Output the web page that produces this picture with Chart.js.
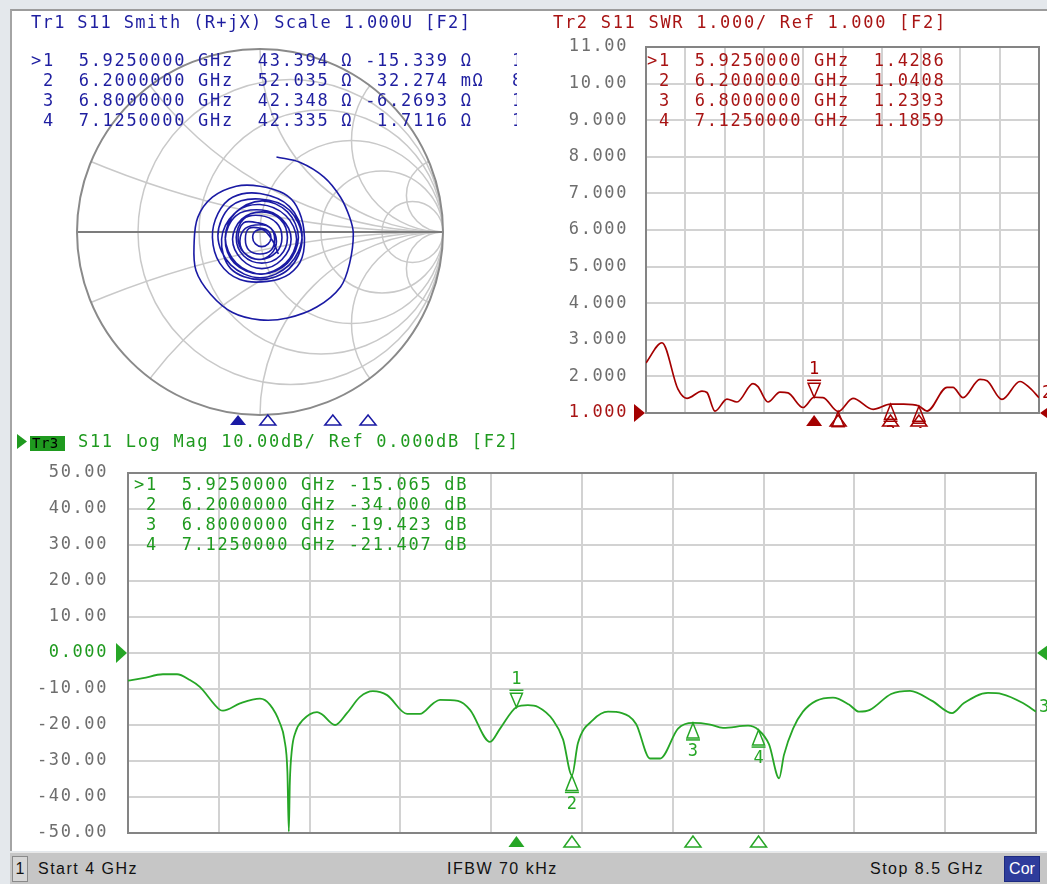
<!DOCTYPE html>
<html><head><meta charset="utf-8">
<script src="https://cdn.jsdelivr.net/npm/chart.js@4.4.1/dist/chart.umd.min.js"></script>
<style>
html,body{margin:0;padding:0;}
body{width:1047px;height:884px;background:#e4e8ec;position:relative;overflow:hidden;}
#panel{position:absolute;left:10px;top:9px;width:1037px;height:842px;background:#fff;border-top:2px solid #9c9c9c;border-left:2px solid #a4a4a4;box-sizing:border-box;}
canvas{position:absolute;}
.t{position:absolute;font-family:"DejaVu Sans Mono",monospace;font-size:17px;letter-spacing:1.7px;white-space:pre;line-height:20px;z-index:5;}
#status{position:absolute;left:10px;top:852px;width:1037px;height:32px;background:#c6c6c6;border-top:1px solid #e8e8e8;box-sizing:border-box;font-family:"Liberation Sans",Arial,sans-serif;font-size:16px;letter-spacing:1.5px;color:#111;}
#status div{position:absolute;line-height:24px;top:4px;white-space:pre;}
</style>
</head><body>
<div id="panel"></div>
<canvas id="smith" width="528" height="416" style="left:12px;top:12px"></canvas>
<canvas id="swr" width="507" height="416" style="left:540px;top:12px"></canvas>
<canvas id="logmag" width="1035" height="420" style="left:12px;top:428px"></canvas>
<div id="texts"></div>
<div id="status"></div>
<script>
// ---------------- data ----------------
const startGHz = 4.0, stopGHz = 8.5;
const freqGridGHz = [4.0, 4.45, 4.9, 5.35, 5.8, 6.25, 6.7, 7.15, 7.6, 8.05, 8.5];

const markerFreqGHz = [5.925, 6.2, 6.8, 7.125];
const markerFreqText = ['5.9250000', '6.2000000', '6.8000000', '7.1250000'];
const markerLogMag = [-15.065, -34.0, -19.423, -21.407];
const markerLogMagText = ['-15.065', '-34.000', '-19.423', '-21.407'];
const markerSWR = [1.4286, 1.0408, 1.2393, 1.1859];
const markerSWRText = ['1.4286', '1.0408', '1.2393', '1.1859'];
const markerSmithR = ['43.394 Ω', '52.035 Ω', '42.348 Ω', '42.335 Ω'];
const markerSmithX = ['-15.339 Ω', ' 32.274 mΩ', '-6.2693 Ω', ' 1.7116 Ω'];
const markerSmithClipped = ['1', '8', '1', '1'];

const logFreqGHz = [4.000,4.074,4.173,4.243,4.307,4.356,4.456,4.471,4.555,4.654,4.704,4.753,4.775,4.790,4.797,4.802,4.812,4.830,4.867,4.937,4.961,5.026,5.085,5.150,5.214,5.284,5.383,5.447,5.512,5.546,5.635,5.695,5.794,5.844,5.925,5.982,6.032,6.106,6.156,6.200,6.230,6.305,6.379,6.448,6.518,6.587,6.637,6.726,6.800,6.879,6.949,7.073,7.125,7.177,7.227,7.251,7.296,7.345,7.410,7.494,7.573,7.623,7.677,7.782,7.876,7.985,8.084,8.143,8.262,8.331,8.435,8.500];
const logMagDb = [-7.7,-7.0,-5.9,-5.9,-7.5,-9.4,-15.8,-16.0,-14.0,-12.7,-14.4,-19.5,-24.0,-33.0,-49.6,-36.0,-27.0,-22.0,-18.6,-16.4,-17.0,-20.0,-16.7,-12.2,-10.6,-11.7,-16.9,-16.9,-14.0,-13.0,-13.3,-15.8,-24.7,-21.0,-15.065,-14.5,-15.0,-18.6,-24.0,-34.0,-25.0,-18.6,-16.3,-16.7,-19.7,-29.3,-29.3,-21.0,-19.423,-19.8,-20.8,-20.2,-21.407,-25.4,-34.8,-28.3,-21.0,-16.3,-13.3,-12.4,-14.3,-16.3,-15.8,-11.4,-10.5,-13.3,-16.7,-13.9,-11.1,-11.4,-13.9,-16.3];
const logMagTicks = [-50,-40,-30,-20,-10,0,10,20,30,40,50];
const logMagTickLabels = ['-50.00','-40.00','-30.00','-20.00','-10.00','0.000','10.00','20.00','30.00','40.00','50.00'];

const swrFreqGHz = [4.000,4.183,4.366,4.469,4.641,4.698,4.790,4.927,5.042,5.225,5.282,5.397,5.534,5.626,5.798,5.925,6.027,6.200,6.370,6.600,6.800,6.950,7.125,7.218,7.447,7.515,7.630,7.824,7.905,8.076,8.282,8.397,8.500];
const swrValues = [2.37,2.92,1.65,1.40,1.60,1.56,1.05,1.38,1.30,1.80,1.72,1.30,1.57,1.55,1.15,1.43,1.42,1.04,1.40,1.10,1.24,1.24,1.19,1.05,1.70,1.70,1.42,1.92,1.88,1.37,1.86,1.68,1.42];
const swrTicks = [1,2,3,4,5,6,7,8,9,10,11];
const swrTickLabels = ['1.000','2.000','3.000','4.000','5.000','6.000','7.000','8.000','9.000','10.00','11.00'];

const smithRe = [0.09,0.22,0.35,0.44,0.49,0.51,0.49,0.44,0.31,0.15,0.00,-0.15,-0.27,-0.35,-0.36,-0.34,-0.26,-0.13,0.00,0.13,0.20,0.24,0.23,0.16,0.04,-0.11,-0.22,-0.26,-0.23,-0.15,
 0.00,0.16,0.23,0.16,0.00,-0.16,-0.23,-0.16,
 0.00,0.16,0.23,0.16,0.00,-0.16,-0.21,-0.14,
 0.01,0.15,0.21,0.15,0.01,-0.13,-0.19,-0.13,
 0.00,0.14,0.20,0.14,0.00,-0.14,-0.19,-0.13,
 0.01,0.12,0.17,0.12,0.01,-0.10,-0.15,-0.10,
 0.01,0.11,0.15,0.11,0.01,-0.09,-0.13,-0.09,
 0.00,0.09,0.12,0.09,0.00,-0.09,-0.12,-0.09,
 -0.01,0.06,0.09,0.06,-0.01,-0.08,-0.11,-0.08,
 0.00,0.06,0.08,0.06,0.00,-0.06,-0.08,-0.06,
 0.01,0.045,0.06,0.045,0.01,-0.025,-0.04,-0.025,
 0.02,0.07,0.10];
const smithIm = [0.41,0.38,0.30,0.19,0.08,-0.01,-0.17,-0.30,-0.41,-0.47,-0.48,-0.44,-0.34,-0.21,-0.06,0.08,0.19,0.25,0.25,0.21,0.14,0.01,-0.14,-0.23,-0.27,-0.26,-0.17,-0.03,0.10,0.19,
 0.21,0.14,-0.02,-0.18,-0.25,-0.18,-0.02,0.14,
 0.18,0.12,-0.04,-0.20,-0.26,-0.20,-0.04,0.10,
 0.17,0.11,-0.03,-0.17,-0.23,-0.17,-0.03,0.11,
 0.15,0.09,-0.04,-0.17,-0.23,-0.17,-0.04,0.09,
 0.12,0.07,-0.04,-0.15,-0.20,-0.15,-0.04,0.07,
 0.11,0.07,-0.03,-0.13,-0.17,-0.13,-0.03,0.07,
 0.09,0.05,-0.03,-0.11,-0.15,-0.11,-0.03,0.05,
 0.05,0.02,-0.05,-0.12,-0.15,-0.12,-0.05,0.02,
 0.04,0.02,-0.04,-0.10,-0.12,-0.10,-0.04,0.02,
 0.02,0.005,-0.03,-0.065,-0.08,-0.065,-0.03,0.005,
 0.01,-0.05,-0.12];
const smithResistanceCircles = [0.2, 0.5, 1, 2, 5];
const smithReactanceArcs = [0.2, 0.5, 1, 2, 5];

// ---------------- styles ----------------
const BLUE = '#1a1aa4', BLUE_T = '#1e1ea0';
const RED = '#a40000', RED_T = '#a81414';
const GREEN = '#26a626', GREEN_T = '#1f9a1f';
const GRID = '#d2d2d2', FRAME = '#848484', TICK = '#6e6e6e';
const MONO = '"DejaVu Sans Mono", monospace';

// ---------------- text overlays ----------------
const texts = document.getElementById('texts');
function addText(str, left, top, color, extra) {
  const d = document.createElement('div');
  d.className = 't'; d.textContent = str;
  d.style.left = left + 'px'; d.style.top = top + 'px'; d.style.color = color;
  if (extra) Object.assign(d.style, extra);
  texts.appendChild(d); return d;
}
addText('Tr1 S11 Smith (R+jX) Scale 1.000U [F2]', 31, 12, BLUE_T, {letterSpacing: '1.35px'});
addText(markerFreqGHz.map((f, i) => (i === 0 ? '>' : ' ') + (i + 1) + '  ' + markerFreqText[i] + ' GHz  ' + markerSmithR[i] + ' ' + markerSmithX[i]).join('\n'), 31, 50, BLUE_T);
addText(markerSmithClipped.join('\n'), 512, 50, BLUE_T, {width: '5px', overflow: 'hidden'});
addText('Tr2 S11 SWR 1.000/ Ref 1.000 [F2]', 553, 12, RED_T);
addText(markerFreqGHz.map((f, i) => (i === 0 ? '>' : ' ') + (i + 1) + '  ' + markerFreqText[i] + ' GHz  ' + markerSWRText[i]).join('\n'), 647, 50, RED_T);
addText('S11 Log Mag 10.00dB/ Ref 0.000dB [F2]', 78, 431, GREEN_T);
addText(markerFreqGHz.map((f, i) => (i === 0 ? '>' : ' ') + (i + 1) + '  ' + markerFreqText[i] + ' GHz ' + markerLogMagText[i] + ' dB').join('\n'), 134, 474, GREEN_T);
// Tr3 active-trace tag
const arrow = document.createElement('div');
Object.assign(arrow.style, {position: 'absolute', left: '17px', top: '434px', width: '10px', height: '15px', background: GREEN_T, clipPath: 'polygon(0 0,100% 50%,0 100%)', zIndex: 5});
texts.appendChild(arrow);
addText('Tr3', 30, 436, '#000', {background: '#1f9a1f', fontSize: '14px', letterSpacing: '0.5px', lineHeight: '15px', padding: '0 2px', width: '31px'});

// status bar
const status = document.getElementById('status');
function addStatus(str, left, extra) {
  const d = document.createElement('div'); d.textContent = str; d.style.left = left + 'px';
  if (extra) Object.assign(d.style, extra); status.appendChild(d);
}
addStatus('1', 2, {width: '14px', textAlign: 'center', border: '1px solid #8a8a8a', background: '#d6d6d6', letterSpacing: '0', top: '3px'});
addStatus('Start 4 GHz', 28);
addStatus('IFBW 70 kHz', 437);
addStatus('Stop 8.5 GHz', 860);
addStatus('Cor', 994, {width: '34px', textAlign: 'center', background: '#2e3c9c', color: '#fff', border: '1px solid #1c2a80', letterSpacing: '0', top: '3px'});

// ---------------- plugins ----------------
const spacing = {id: 'spacing', beforeDraw(c) { c.ctx.letterSpacing = '1.6px'; }};
const frame = {
  id: 'frame',
  beforeDatasetsDraw(c) {
    const {ctx, chartArea: a} = c;
    ctx.save(); ctx.strokeStyle = FRAME; ctx.lineWidth = 2;
    ctx.strokeRect(a.left, a.top, a.right - a.left, a.bottom - a.top);
    ctx.restore();
  }
};
const vnaMarkers = {
  id: 'vnaMarkers',
  afterDatasetsDraw(chart, args, o) {
    const {ctx, chartArea: a, scales: {x, y}} = chart;
    ctx.save();
    ctx.strokeStyle = o.color; ctx.fillStyle = o.color; ctx.lineWidth = 1.5;
    ctx.font = '17px ' + MONO; ctx.textAlign = 'center'; ctx.textBaseline = 'middle';
    ctx.letterSpacing = '0px';
    o.freqs.forEach((f, i) => {
      const px = x.getPixelForValue(f), py = y.getPixelForValue(o.vals[i]);
      ctx.beginPath();
      if (i === 0) {
        ctx.moveTo(px, py); ctx.lineTo(px - 6, py - 14); ctx.lineTo(px + 6, py - 14); ctx.closePath(); ctx.stroke();
        ctx.beginPath(); ctx.moveTo(px - 7, py - 17); ctx.lineTo(px + 7, py - 17); ctx.stroke();
        ctx.fillText(String(i + 1), px, py - 28);
      } else {
        ctx.moveTo(px, py); ctx.lineTo(px - 6, py + 15); ctx.lineTo(px + 6, py + 15); ctx.closePath(); ctx.stroke();
        ctx.beginPath(); ctx.moveTo(px - 7, py + 17); ctx.lineTo(px + 7, py + 17); ctx.stroke();
        ctx.fillText(String(i + 1), px, py + 29);
      }
      const by = a.bottom + o.axisOffset;
      ctx.beginPath(); ctx.moveTo(px, by); ctx.lineTo(px - 8, by + 11); ctx.lineTo(px + 8, by + 11); ctx.closePath();
      if (i === 0) ctx.fill(); else ctx.stroke();
    });
    const ry = y.getPixelForValue(o.ref);
    ctx.beginPath(); ctx.moveTo(a.left - 12, ry - o.arrowH); ctx.lineTo(a.left - 1, ry); ctx.lineTo(a.left - 12, ry + o.arrowH); ctx.closePath(); ctx.fill();
    ctx.beginPath(); ctx.moveTo(a.right + 1, ry); ctx.lineTo(a.right + 12, ry - 8); ctx.lineTo(a.right + 12, ry + 8); ctx.closePath(); ctx.fill();
    const data = chart.data.datasets[0].data;
    ctx.textAlign = 'left';
    ctx.fillText(o.traceNo, a.right + 3, y.getPixelForValue(data[data.length - 1].y) - 4);
    ctx.restore();
  }
};
const smithGrid = {
  id: 'smithGrid',
  beforeDatasetsDraw(chart) {
    const {ctx, scales: {x, y}} = chart;
    const cx = x.getPixelForValue(0), cy = y.getPixelForValue(0), R = x.getPixelForValue(1) - cx;
    ctx.save();
    ctx.beginPath(); ctx.arc(cx, cy, R, 0, 2 * Math.PI); ctx.clip();
    ctx.strokeStyle = '#c9c9c9'; ctx.lineWidth = 1.5;
    smithResistanceCircles.forEach(r => {
      ctx.beginPath(); ctx.arc(x.getPixelForValue(r / (1 + r)), cy, R / (1 + r), 0, 2 * Math.PI); ctx.stroke();
    });
    smithReactanceArcs.forEach(xx => {
      [1, -1].forEach(s => {
        ctx.beginPath(); ctx.arc(x.getPixelForValue(1), y.getPixelForValue(s / xx), R / xx, 0, 2 * Math.PI); ctx.stroke();
      });
    });
    ctx.restore();
    ctx.save();
    ctx.strokeStyle = '#7c7c7c'; ctx.lineWidth = 2;
    ctx.beginPath(); ctx.moveTo(cx - R, cy); ctx.lineTo(cx + R, cy); ctx.stroke();
    ctx.strokeStyle = '#8a8a8a';
    ctx.beginPath(); ctx.arc(cx, cy, R, 0, 2 * Math.PI); ctx.stroke();
    ctx.restore();
  },
  afterDatasetsDraw(chart) {
    const ctx = chart.ctx;
    ctx.save(); ctx.strokeStyle = BLUE; ctx.fillStyle = BLUE; ctx.lineWidth = 1.5;
    markerFreqGHz.forEach((f, i) => {
      const px = 17.5 + (f - startGHz) / (stopGHz - startGHz) * 487.5, by = 403;
      ctx.beginPath(); ctx.moveTo(px, by); ctx.lineTo(px - 8, by + 10); ctx.lineTo(px + 8, by + 10); ctx.closePath();
      if (i === 0) ctx.fill(); else ctx.stroke();
    });
    ctx.restore();
  }
};

Chart.defaults.font.family = MONO;
Chart.defaults.font.size = 17;

// ---------------- Smith chart ----------------
new Chart(document.getElementById('smith'), {
  type: 'scatter',
  data: {datasets: [{
    data: smithRe.map((v, i) => ({x: v, y: smithIm[i]})),
    showLine: true, borderColor: BLUE, borderWidth: 1.6, pointRadius: 0, tension: 0.35, fill: false
  }]},
  options: {
    responsive: false, animation: false, devicePixelRatio: 1,
    layout: {padding: {left: 65, right: 97, top: 37, bottom: 13}, autoPadding: false},
    scales: {x: {type: 'linear', min: -1, max: 1, display: false}, y: {type: 'linear', min: -1, max: 1, display: false}},
    plugins: {legend: {display: false}, tooltip: {enabled: false}}
  },
  plugins: [smithGrid]
});

function rectOptions(cfg) {
  return {
    responsive: false, animation: false, devicePixelRatio: 1,
    layout: {padding: cfg.padding, autoPadding: false},
    scales: {
      x: {
        type: 'linear', min: startGHz, max: stopGHz,
        afterBuildTicks: s => { s.ticks = freqGridGHz.map(v => ({value: v})); },
        afterFit: s => { s.height = 0; s.paddingLeft = 0; s.paddingRight = 0; s.paddingTop = 0; s.paddingBottom = 0; },
        ticks: {display: false},
        grid: {color: GRID, lineWidth: 2, drawTicks: false},
        border: {display: false}
      },
      y: {
        type: 'linear', min: cfg.ticks[0], max: cfg.ticks[cfg.ticks.length - 1],
        afterBuildTicks: s => { s.ticks = cfg.ticks.map(v => ({value: v})); },
        afterFit: s => { s.width = cfg.axisWidth; s.paddingTop = 0; s.paddingBottom = 0; },
        ticks: {
          padding: cfg.tickPad,
          callback: v => cfg.labels[cfg.ticks.indexOf(v)],
          color: c => (c.tick && c.tick.value === cfg.ref) ? cfg.refColor : TICK,
          font: {family: MONO, size: 17}
        },
        grid: {color: GRID, lineWidth: 2, drawTicks: false},
        border: {display: false}
      }
    },
    plugins: {legend: {display: false}, tooltip: {enabled: false}, vnaMarkers: cfg.markers}
  };
}

// ---------------- SWR ----------------
new Chart(document.getElementById('swr'), {
  type: 'scatter',
  data: {datasets: [{
    data: swrFreqGHz.map((f, i) => ({x: f, y: swrValues[i]})),
    showLine: true, borderColor: RED, borderWidth: 1.7, pointRadius: 0, cubicInterpolationMode: 'monotone'
  }]},
  options: rectOptions({
    padding: {left: 0, right: 8, top: 35, bottom: 15},
    ticks: swrTicks, labels: swrTickLabels, axisWidth: 106, tickPad: 18, ref: 1, refColor: RED_T,
    markers: {freqs: markerFreqGHz, vals: markerSWR, color: RED, axisOffset: 2, ref: 1, arrowH: 9, traceNo: '2'}
  }),
  plugins: [spacing, frame, vnaMarkers]
});

// ---------------- Log Mag ----------------
new Chart(document.getElementById('logmag'), {
  type: 'scatter',
  data: {datasets: [{
    data: logFreqGHz.map((f, i) => ({x: f, y: logMagDb[i]})),
    showLine: true, borderColor: GREEN, borderWidth: 1.8, pointRadius: 0, cubicInterpolationMode: 'monotone'
  }]},
  options: rectOptions({
    padding: {left: 0, right: 11, top: 45, bottom: 15},
    ticks: logMagTicks, labels: logMagTickLabels, axisWidth: 116, tickPad: 20, ref: 0, refColor: GREEN_T,
    markers: {freqs: markerFreqGHz, vals: markerLogMag, color: GREEN, axisOffset: 3, ref: 0, arrowH: 10, traceNo: '3'}
  }),
  plugins: [spacing, frame, vnaMarkers]
});
</script>
</body></html>
